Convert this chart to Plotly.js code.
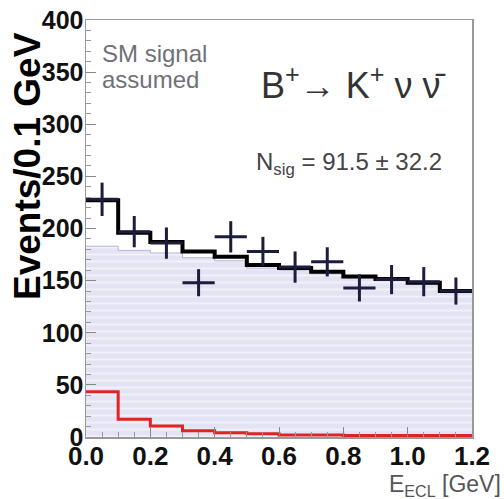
<!DOCTYPE html>
<html>
<head>
<meta charset="utf-8">
<script src="https://cdn.plot.ly/plotly-3.0.1.min.js"></script>
<style>html,body{margin:0;padding:0;background:#fff;}#chart{width:504px;height:499px;}</style>
</head>
<body>
<div id="chart"></div>
<script>
// Bin edges of E_ECL [GeV]
var binEdges = [0.0, 0.1, 0.2, 0.3, 0.4, 0.5, 0.6, 0.7, 0.8, 0.9, 1.0, 1.1, 1.2];
var binCenters = [0.05, 0.15, 0.25, 0.35, 0.45, 0.55, 0.65, 0.75, 0.85, 0.95, 1.05, 1.15];
// Data points and errors
var dataValues = [228, 197, 186, 148, 192, 178, 163, 168, 143, 151, 149, 140];
var dataErrors = [16, 15, 15, 13, 15, 14, 15, 14, 13, 14, 14, 13];
// Fit components
var totalFit = [227, 196, 187, 178, 173, 165, 162, 158.5, 154, 151.5, 148, 140];
var backgroundFit = [183, 179, 176.5, 172, 169, 162, 160, 156.5, 152.5, 150, 146.5, 138.5];
var signalFit = [43.5, 17, 10.5, 6, 4, 3, 2, 2, 1.5, 1.5, 1.5, 1.5];

var yTicks = [0, 50, 100, 150, 200, 250, 300, 350, 400];
var xTicks = [0.0, 0.2, 0.4, 0.6, 0.8, 1.0, 1.2];
var xTickLabels = ["0.0", "0.2", "0.4", "0.6", "0.8", "1.0", "1.2"];

function stepY(vals) { return vals.concat([vals[vals.length - 1]]); }

var font = "Liberation Sans, Arial, Helvetica, sans-serif";

var traces = [
  {
    x: binEdges, y: stepY(backgroundFit), type: 'scatter', mode: 'lines',
    line: {shape: 'hv', color: '#b4b4dc', width: 1},
    fill: 'tozeroy', fillcolor: '#e4e4f3',
    fillpattern: {shape: '-', bgcolor: '#e3e3f3', fgcolor: '#f1f1fa', size: 7, solidity: 0.3},
    hoverinfo: 'skip', showlegend: false
  },
  {
    x: binEdges, y: stepY(signalFit), type: 'scatter', mode: 'lines',
    line: {shape: 'hv', color: '#e02424', width: 3},
    hoverinfo: 'skip', showlegend: false
  },
  {
    x: binEdges, y: stepY(totalFit), type: 'scatter', mode: 'lines',
    line: {shape: 'hv', color: '#000000', width: 4},
    hoverinfo: 'skip', showlegend: false
  },
  {
    x: binCenters, y: dataValues, type: 'scatter', mode: 'markers',
    marker: {size: 2, color: '#1c1c3c'},
    error_y: {type: 'data', array: dataErrors, visible: true, thickness: 3, width: 0, color: '#1c1c3c'},
    error_x: {type: 'constant', value: 0.05, visible: true, thickness: 3, width: 0, color: '#1c1c3c'},
    showlegend: false
  }
];

var layout = {
  width: 504, height: 499,
  margin: {l: 86, r: 32, t: 20, b: 62},
  paper_bgcolor: '#ffffff', plot_bgcolor: '#ffffff',
  showlegend: false,
  font: {family: font, color: '#000'},
  xaxis: {
    range: [0, 1.2], tickvals: xTicks, ticktext: xTickLabels,
    ticks: 'inside', ticklen: 10, tickwidth: 1, tickcolor: '#888',
    minor: {dtick: 0.05, ticks: 'inside', ticklen: 5, tickcolor: '#999'},
    showline: true, linecolor: '#999', linewidth: 1.5, mirror: true,
    showgrid: false, zeroline: false,
    tickfont: {family: font, size: 26, weight: 'bold', color: '#111'},
    ticklabelstandoff: -5
  },
  yaxis: {
    range: [0, 400], tickvals: yTicks,
    ticks: 'inside', ticklen: 10, tickwidth: 1, tickcolor: '#888',
    minor: {dtick: 10, ticks: 'inside', ticklen: 5, tickcolor: '#999'},
    showline: true, linecolor: '#999', linewidth: 1.5, mirror: true,
    showgrid: false, zeroline: false,
    tickfont: {family: font, size: 25, weight: 'bold', color: '#111'},
    ticklabelstandoff: -4
  },
  annotations: [
    {text: 'Events/0.1 GeV', xref: 'paper', yref: 'paper', x: -0.15, y: 0.65,
     textangle: -90, showarrow: false, xanchor: 'center', yanchor: 'middle',
     font: {family: font, size: 37, weight: 'bold', color: '#000'}},
    {text: 'E<sub>ECL</sub> [GeV]', xref: 'paper', yref: 'paper', x: 1.08, y: -0.1175,
     showarrow: false, xanchor: 'right', yanchor: 'middle',
     font: {family: font, size: 23, color: '#555'}},
    {text: 'SM signal', xref: 'paper', yref: 'paper', x: 0.036, y: 0.92,
     showarrow: false, xanchor: 'left', yanchor: 'middle',
     font: {family: font, size: 24, color: '#707078'}},
    {text: 'assumed', xref: 'paper', yref: 'paper', x: 0.036, y: 0.857,
     showarrow: false, xanchor: 'left', yanchor: 'middle',
     font: {family: font, size: 24, color: '#707078'}},
    {text: 'B<sup>+</sup>\u2192 K<sup>+</sup> \u03bd \u03bd\u0304', xref: 'paper', yref: 'paper', x: 0.935, y: 0.848,
     showarrow: false, xanchor: 'right', yanchor: 'middle',
     font: {family: font, size: 36, color: '#333'}},
    {text: 'N<sub>sig</sub> = 91.5 \u00b1 32.2', xref: 'paper', yref: 'paper', x: 0.927, y: 0.657,
     showarrow: false, xanchor: 'right', yanchor: 'middle',
     font: {family: font, size: 24, color: '#444'}}
  ]
};

Plotly.newPlot('chart', traces, layout, {displayModeBar: false, staticPlot: true});
</script>
</body>
</html>
